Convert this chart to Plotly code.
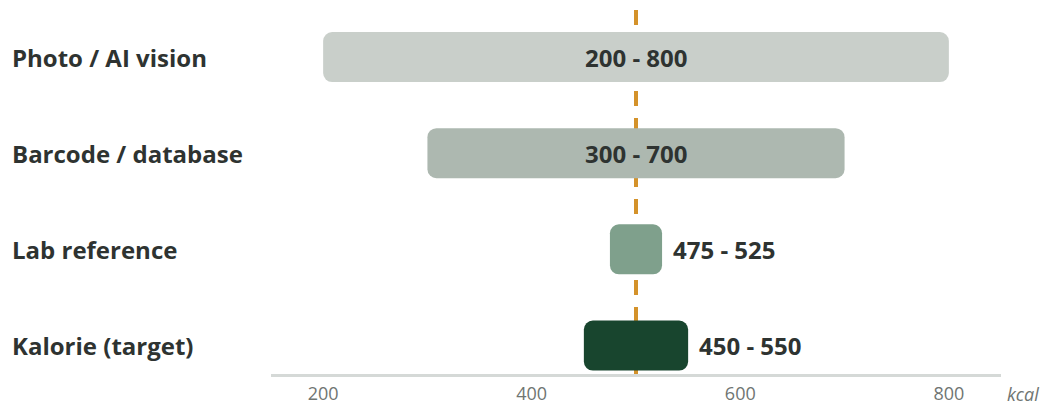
import plotly.graph_objects as go

methods = ["Kalorie (target)", "Lab reference", "Barcode / database", "Photo / AI vision"]
low = [450, 475, 300, 200]
high = [550, 525, 700, 800]
colors = ["#18452E", "#7FA08C", "#ADB8B0", "#C9CFCA"]
label_inside = [False, False, True, True]
reference_value = 500
tick_vals = [200, 400, 600, 800]
unit_label = "kcal"

FONT = "Open Sans"
TEXT = "#2E3331"
MUTED = "#6F7572"

fig = go.Figure()
fig.add_trace(go.Bar(
    y=list(range(len(methods))),
    x=[h - l for h, l in zip(high, low)],
    base=low,
    orientation="h",
    width=0.52,
    marker=dict(color=colors, cornerradius=9, line=dict(width=0)),
    hoverinfo="skip",
))

annotations = []
for i, (m, l, h, inside) in enumerate(zip(methods, low, high, label_inside)):
    annotations.append(dict(
        x=-0.358, xref="paper", y=i, yref="y", text=f"<b>{m}</b>",
        showarrow=False, xanchor="left", yanchor="middle",
        font=dict(family=FONT, size=24, color=TEXT)))
    txt = f"<b>{l} - {h}</b>"
    if inside:
        annotations.append(dict(x=(l + h) / 2, y=i, text=txt, showarrow=False,
                                xanchor="center", yanchor="middle",
                                font=dict(family=FONT, size=24, color=TEXT)))
    else:
        annotations.append(dict(x=h, y=i, text=txt, showarrow=False, xshift=9,
                                xanchor="left", yanchor="middle",
                                font=dict(family=FONT, size=24, color=TEXT)))

annotations.append(dict(x=1.005, xref="paper", y=0, yref="paper", yshift=-20,
                        text=f"<i>{unit_label}</i>", showarrow=False,
                        xanchor="left", yanchor="middle",
                        font=dict(family=FONT, size=18, color=MUTED)))

fig.add_shape(type="line", x0=reference_value, x1=reference_value, xref="x",
              y0=1.0, y1=0.0, yref="paper",
              line=dict(color="#D4922A", width=4, dash="15px,12px"), layer="below")

fig.update_layout(
    width=1044, height=407,
    margin=dict(l=271, r=43, t=10, b=33),
    plot_bgcolor="white", paper_bgcolor="white",
    showlegend=False,
    annotations=annotations,
    xaxis=dict(range=[150, 850], tickvals=tick_vals, showgrid=False, zeroline=False,
               showline=True, linecolor="#D5D9D7", linewidth=3, ticks="",
               ticklabelstandoff=1, automargin=False,
               tickfont=dict(family=FONT, size=18, color=MUTED)),
    yaxis=dict(range=[-0.296, 3.489], showticklabels=False, showgrid=False,
               zeroline=False, showline=False, automargin=False),
)

fig.write_html("out.html")
